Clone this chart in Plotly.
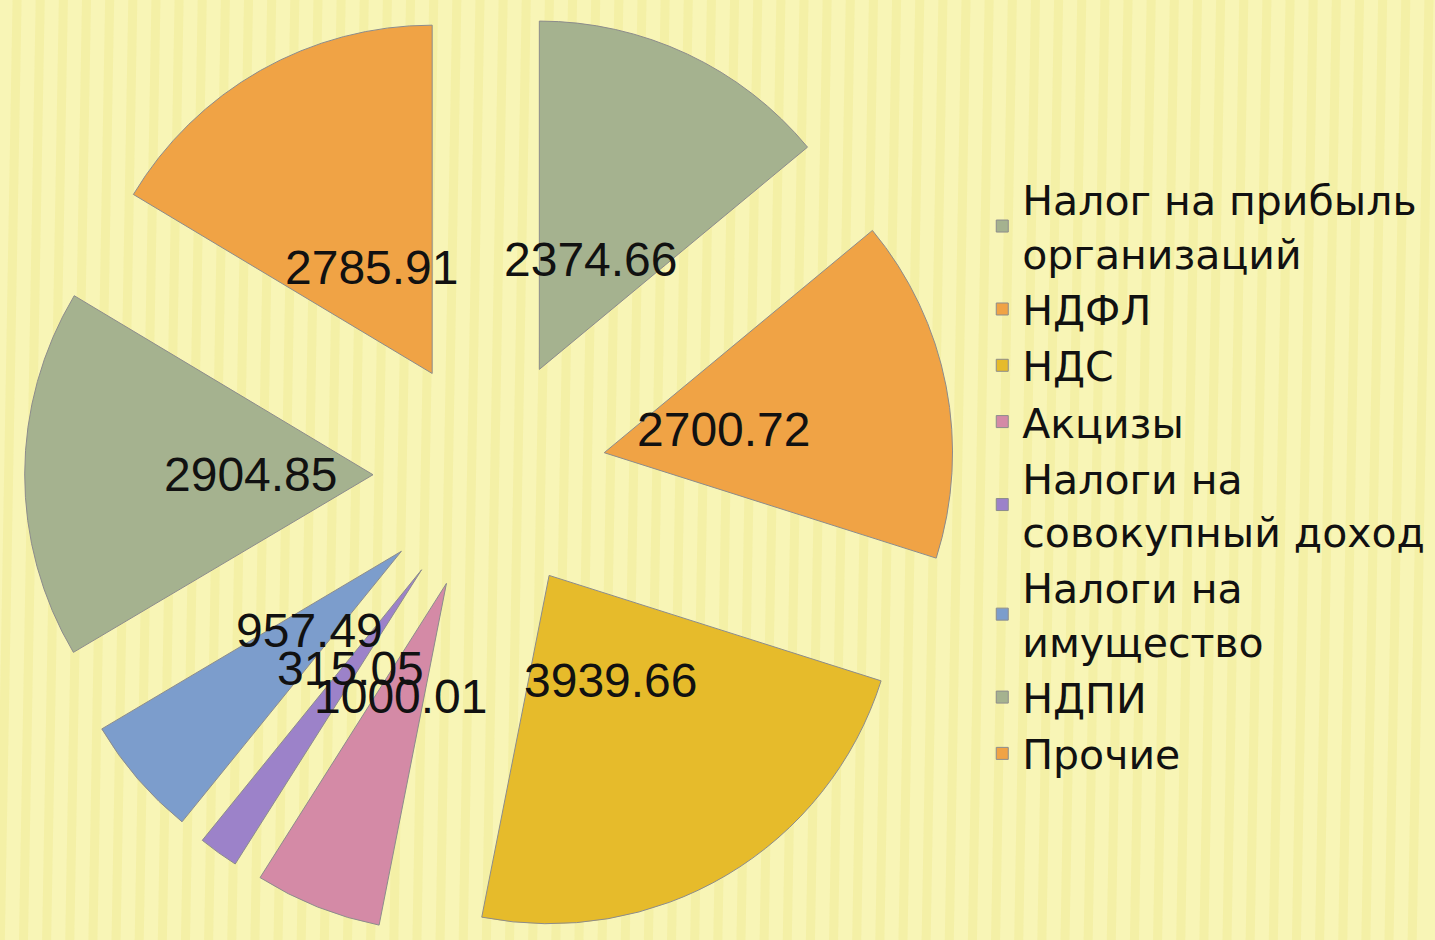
import math
import plotly.graph_objects as go

labels = ["Налог на прибыль<br>организаций", "НДФЛ", "НДС", "Акцизы",
          "Налоги на<br>совокупный доход", "Налоги на<br>имущество", "НДПИ", "Прочие"]
values = [2374.66, 2700.72, 3939.66, 1000.01, 315.05, 957.49, 2904.85, 2785.91]
colors = ["#A5B28F", "#F0A345", "#E6BB2B", "#D48AA6", "#9C82C9", "#7C9DCC", "#A5B28F", "#F0A345"]

W, H = 1435, 940
MT = 10
pull_frac = 0.335
dom_x = [0, 0.6825]

fig = go.Figure(go.Pie(
    labels=labels,
    values=values,
    sort=False,
    direction="clockwise",
    rotation=0,
    pull=[pull_frac] * len(values),
    marker=dict(colors=colors, line=dict(color="#8C8C8C", width=1)),
    textinfo="none",
    domain=dict(x=dom_x, y=[0, 1]),
    hoverinfo="label+value",
))

# data labels placed along each slice's mid-angle (Excel-style centre labels)
plot_h = H - MT
r_px = (plot_h / 2) / (1 + pull_frac)
label_dist = 0.685 * r_px
total = sum(values)
cum = 0.0
for v in values:
    mid = (cum + v / 2) / total * 2 * math.pi
    cum += v
    x = (dom_x[0] + dom_x[1]) / 2 + label_dist * math.sin(mid) / W
    y = 0.5 + label_dist * math.cos(mid) / plot_h
    fig.add_annotation(
        x=x, y=y, xref="paper", yref="paper", text=f"{v:.2f}", showarrow=False,
        xanchor="center", yanchor="middle",
        font=dict(family="Liberation Sans, Arial", size=48, color="#111111"),
    )

# decorative striped slide background
shapes = []
n_stripes = 62
for i in range(n_stripes):
    x0 = i / n_stripes
    shapes.append(dict(
        type="line", xref="paper", yref="paper", x0=x0, x1=x0 + 0.012, y0=-0.02, y1=1.02,
        line=dict(color="rgba(228,218,105,0.20)", width=9), layer="below",
    ))

fig.update_layout(
    width=W, height=H,
    margin=dict(l=0, r=0, t=MT, b=0),
    paper_bgcolor="#F8F5B6",
    plot_bgcolor="#F8F5B6",
    shapes=shapes,
    showlegend=True,
    legend=dict(
        x=0.6845, y=0.832, xanchor="left", yanchor="top",
        font=dict(family="DejaVu Sans", size=41, color="#111111"),
        bgcolor="rgba(0,0,0,0)", itemwidth=30, tracegroupgap=0,
    ),
)

fig.write_html("out.html", config={"displayModeBar": False},
               post_script="document.body.style.margin='0';")
